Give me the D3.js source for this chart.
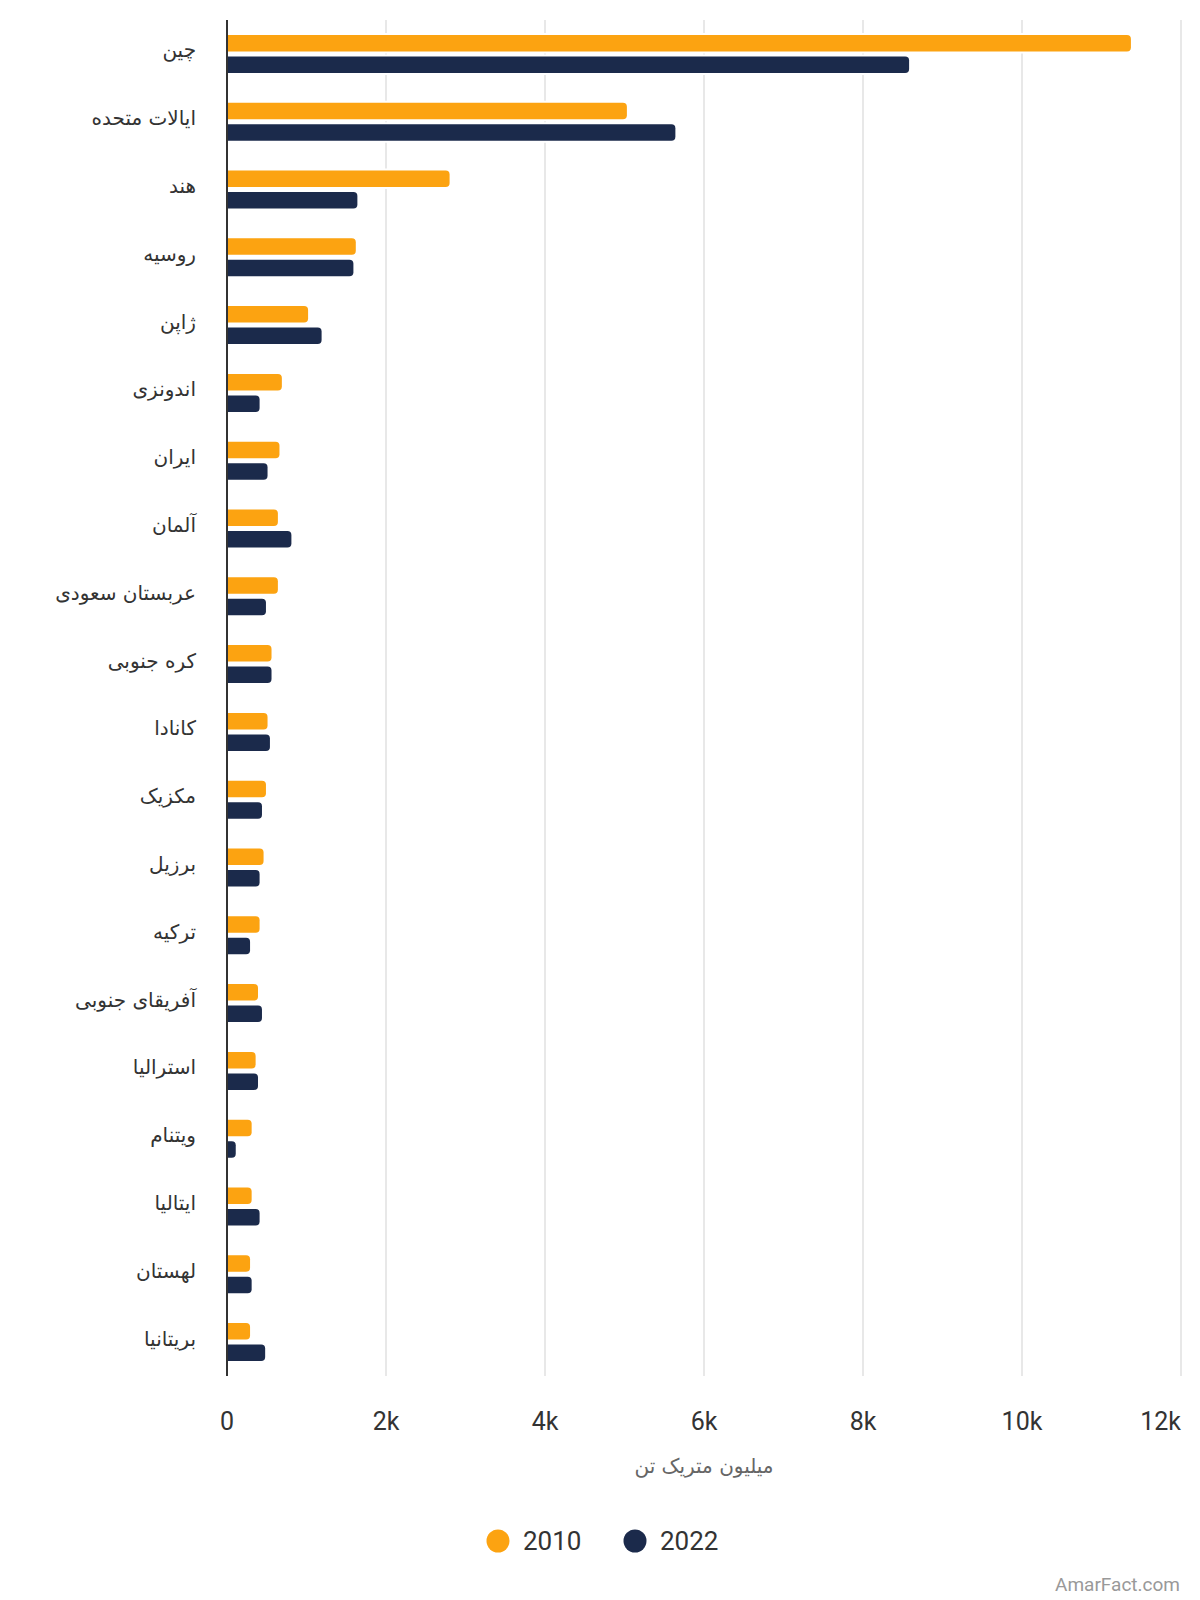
<!DOCTYPE html>
<html>
<head>
<meta charset="utf-8">
<script src="https://cdn.jsdelivr.net/npm/d3@7"></script>
<style>
  html, body { margin: 0; padding: 0; background: #fff; }
  svg { display: block; }
</style>
</head>
<body>
<svg id="chart" width="1200" height="1600"></svg>
<script>
const categories = ["چین","ایالات متحده","هند","روسیه","ژاپن","اندونزی","ایران","آلمان","عربستان سعودی","کره جنوبی","کانادا","مکزیک","برزیل","ترکیه","آفریقای جنوبی","استرالیا","ویتنام","ایتالیا","لهستان","بریتانیا"];
const values2010 = [11370,5030,2800,1620,1020,690,660,640,640,560,510,490,460,410,390,360,310,310,290,290];
const values2022 = [8580,5640,1640,1590,1190,410,510,810,490,560,540,440,410,290,440,390,110,410,310,480];
const seriesNames = ["2010","2022"];
const seriesColors = ["#FCA311","#1B2A4B"];
const tickValues = [0,2000,4000,6000,8000,10000,12000];
const tickLabels = ["0","2k","4k","6k","8k","10k","12k"];
const axisTitle = "میلیون متریک تن";
const credit = "AmarFact.com";

(function () {
const svg = d3.select("#chart");
const mLeft = 227, mRight = 1181, mTop = 20, mBottom = 1376;

const x = d3.scaleLinear().domain([0,12000]).range([mLeft,mRight]);
const y = d3.scaleBand().domain(categories).range([mTop,mBottom]).paddingInner(0).paddingOuter(0);
const groupH = 38;
const sub = d3.scaleBand().domain(seriesNames).range([0,groupH]).paddingInner(0.2326).paddingOuter(0);
const color = d3.scaleOrdinal().domain(seriesNames).range(seriesColors);

// gridlines
svg.append("g").selectAll("line").data(tickValues.slice(1)).join("line")
  .attr("x1", d => x(d)).attr("x2", d => x(d))
  .attr("y1", mTop).attr("y2", mBottom)
  .attr("stroke", "#e0e0e0").attr("stroke-width", 1.5);

const data = [];
categories.forEach((c,i) => {
  data.push({cat:c, s:"2010", v:values2010[i]});
  data.push({cat:c, s:"2022", v:values2022[i]});
});

function barPath(x0, y0, w, h, r) {
  r = Math.min(r, w, h/2);
  return `M${x0},${y0} H${x0+w-r} A${r},${r} 0 0 1 ${x0+w},${y0+r} V${y0+h-r} A${r},${r} 0 0 1 ${x0+w-r},${y0+h} H${x0} Z`;
}

const barsG = svg.append("g");
const bh = sub.bandwidth();
const barY = d => y(d.cat) + (y.bandwidth() - groupH)/2 + sub(d.s);
barsG.selectAll("path.halo").data(data).join("path").attr("class","halo")
  .attr("d", d => barPath(x(0), barY(d)-2, x(d.v)-x(0)+2, bh+4, 6))
  .attr("fill", "#fff");
barsG.selectAll("path.bar").data(data).join("path").attr("class","bar")
  .attr("d", d => barPath(x(0), barY(d), x(d.v)-x(0), bh, 4))
  .attr("fill", d => color(d.s));

// y axis line
svg.append("line").attr("x1", mLeft).attr("x2", mLeft).attr("y1", mTop).attr("y2", mBottom)
  .attr("stroke", "#333").attr("stroke-width", 2);

// category labels
svg.append("g").selectAll("text").data(categories).join("text")
  .attr("x", 196).attr("y", d => y(d) + y.bandwidth()/2 - 2)
  .attr("text-anchor", "start").attr("direction", "rtl")
  .attr("dominant-baseline", "middle")
  .attr("font-family", "'DejaVu Sans', sans-serif").attr("font-size", 20)
  .attr("fill", "#333")
  .text(d => d);

// x tick labels
svg.append("g").selectAll("text").data(tickValues).join("text")
  .attr("x", d => x(d))
  .attr("y", 1430)
  .attr("text-anchor", (d,i) => i === tickValues.length-1 ? "end" : "middle")
  .attr("font-family", "Roboto, sans-serif").attr("font-size", 25)
  .attr("fill", "#333")
  .text((d,i) => tickLabels[i]);

// axis title
svg.append("text").attr("x", (mLeft+mRight)/2).attr("y", 1473)
  .attr("text-anchor", "middle").attr("direction", "rtl")
  .attr("font-family", "'DejaVu Sans', sans-serif").attr("font-size", 20)
  .attr("fill", "#666").text(axisTitle);

// legend
const legendX = [498, 635];
const lg = svg.append("g");
seriesNames.forEach((s,i) => {
  lg.append("circle").attr("cx", legendX[i]).attr("cy", 1541).attr("r", 11.5).attr("fill", color(s));
  lg.append("text").attr("x", legendX[i] + 25).attr("y", 1550)
    .attr("font-family", "Roboto, sans-serif").attr("font-size", 26)
    .attr("fill", "#333").text(s);
});

// credit
svg.append("text").attr("x", 1180).attr("y", 1591).attr("text-anchor", "end")
  .attr("font-family", "Roboto, sans-serif").attr("font-size", 19)
  .attr("fill", "#999").text(credit);
})();
</script>
</body>
</html>
